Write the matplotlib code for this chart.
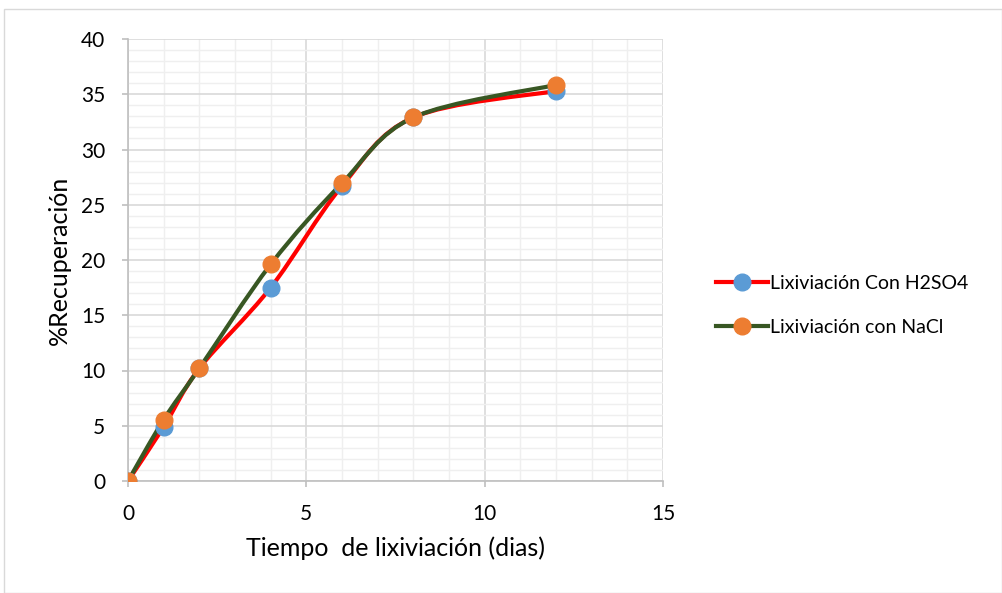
import matplotlib
matplotlib.use('Agg')
import matplotlib.pyplot as plt
from matplotlib.path import Path
from matplotlib.patches import PathPatch, Rectangle
from matplotlib.lines import Line2D
from matplotlib.ticker import MultipleLocator

dias = [0, 1, 2, 4, 6, 8, 12]
rec_h2so4 = [0, 4.9, 10.2, 17.5, 26.7, 32.9, 35.3]
rec_nacl = [0, 5.55, 10.2, 19.6, 26.95, 32.9, 35.85]

plt.rcParams['font.family'] = ['Lato', 'DejaVu Sans']


def smooth_path(xs, ys):
    # Excel-style smoothed line: cubic bezier segments, Catmull-Rom control points
    pts = list(zip(xs, ys))
    n = len(pts)
    verts = [pts[0]]
    codes = [Path.MOVETO]
    for i in range(n - 1):
        p0 = pts[i - 1] if i > 0 else pts[i]
        p1 = pts[i]
        p2 = pts[i + 1]
        p3 = pts[i + 2] if i + 2 < n else pts[i + 1]
        c1 = (p1[0] + (p2[0] - p0[0]) / 6, p1[1] + (p2[1] - p0[1]) / 6)
        c2 = (p2[0] - (p3[0] - p1[0]) / 6, p2[1] - (p3[1] - p1[1]) / 6)
        verts += [c1, c2, p2]
        codes += [Path.CURVE4] * 3
    return Path(verts, codes)


fig = plt.figure(figsize=(10.02, 5.93), dpi=100)
fig.patches.append(Rectangle((4 / 1002, 0), 1 - 4 / 1002, 1 - 9 / 593, transform=fig.transFigure,
                             fill=False, edgecolor='#D9D9D9', linewidth=1))
ax = fig.add_axes([128 / 1002, 1 - 481 / 593, (663 - 128) / 1002, (481 - 39) / 593])

series = [
    (rec_h2so4, '#FF0000', '#5B9BD5', 'Lixiviación Con H2SO4'),
    (rec_nacl, '#385723', '#ED7D31', 'Lixiviación con NaCl'),
]
for ys, lc, mc, lab in series:
    ax.add_patch(PathPatch(smooth_path(dias, ys), fill=False, edgecolor=lc, linewidth=3,
                           capstyle='round', joinstyle='round', zorder=3))
for ys, lc, mc, lab in series:
    ax.plot(dias, ys, linestyle='none', marker='o', markersize=12, color=mc, zorder=4)

ax.set_xlim(0, 15)
ax.set_ylim(0, 40)
ax.xaxis.set_major_locator(MultipleLocator(5))
ax.xaxis.set_minor_locator(MultipleLocator(1))
ax.yaxis.set_major_locator(MultipleLocator(5))
ax.yaxis.set_minor_locator(MultipleLocator(1))
ax.grid(which='major', color='#D9D9D9', linewidth=1.2)
ax.grid(which='minor', color='#EFEFEF', linewidth=1)
ax.set_axisbelow(True)
for s in ['top', 'right']:
    ax.spines[s].set_visible(False)
for s in ['left', 'bottom']:
    ax.spines[s].set_color('#BFBFBF')
    ax.spines[s].set_linewidth(1.2)
ax.tick_params(which='major', length=4.5, width=1.2, color='#BFBFBF', labelsize=15)
ax.tick_params(axis='x', pad=12)
ax.tick_params(axis='y', pad=12)
ax.tick_params(which='minor', length=0)
ax.set_xlabel('Tiempo  de lixiviación (dias)', fontsize=18, labelpad=9)
ax.set_ylabel('%Recuperación', fontsize=18, labelpad=7)

handles = [Line2D([], [], color=lc, linewidth=3, marker='o', markersize=12,
                  markerfacecolor=mc, markeredgecolor=mc) for _, lc, mc, _ in series]
fig.legend(handles, [s[3] for s in series], loc='center left', bbox_to_anchor=(0.697, 0.485),
           frameon=False, fontsize=14, handlelength=2.7, handletextpad=0.1, labelspacing=1.35)

plt.savefig('out.png', dpi=100)
plt.close()
